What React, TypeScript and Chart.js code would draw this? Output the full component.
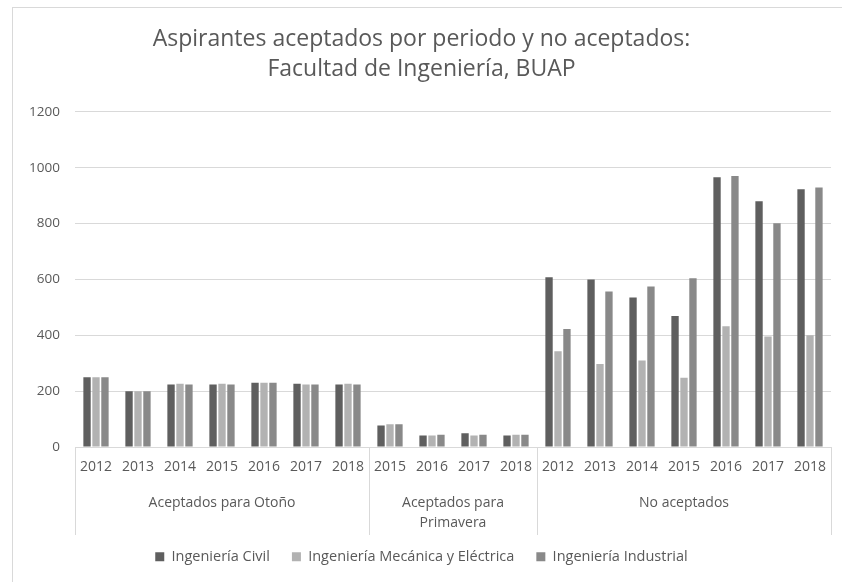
import React, { useEffect, useRef } from "react";
import { Chart, registerables } from "chart.js";

Chart.register(...registerables);

const years = [
  "2012", "2013", "2014", "2015", "2016", "2017", "2018",
  "2015", "2016", "2017", "2018",
  "2012", "2013", "2014", "2015", "2016", "2017", "2018",
];
const groupLabels = [["Aceptados para Otoño"], ["Aceptados para", "Primavera"], ["No aceptados"]];
const groupSizes = [7, 4, 7];

const seriesNames = ["Ingeniería Civil", "Ingeniería Mecánica y Eléctrica", "Ingeniería Industrial"];
const civil = [250, 200, 224, 224, 230, 226, 224, 77, 41, 49, 41, 608, 600, 535, 469, 966, 880, 923];
const mecanica = [250, 200, 226, 226, 230, 224, 226, 81, 41, 41, 44, 343, 297, 310, 248, 432, 396, 400];
const industrial = [250, 200, 224, 224, 230, 224, 224, 81, 44, 44, 44, 422, 557, 575, 604, 970, 801, 929];
const seriesColors = ["#5f5f5f", "#b2b2b2", "#898989"];

const titleLines = ["Aspirantes aceptados por periodo y no aceptados:", "Facultad de Ingeniería, BUAP"];
const yMax = 1200;
const yStep = 200;

const FONT = "'Open Sans', 'DejaVu Sans', sans-serif";
const TEXT = "#595959";
const LINE = "#d9d9d9";

const W = 842;
const H = 582;
const PLOT_BOTTOM = 447;
const BOX_DEPTH = 88;

const categoryBoxPlugin = {
  id: "categoryBox",
  beforeDraw(chart: any) {
    const { ctx } = chart;
    ctx.save();
    ctx.strokeStyle = LINE;
    ctx.lineWidth = 1;
    ctx.strokeRect(12.5, 7.5, W + 20, H + 20);
    ctx.restore();
  },
  afterDatasetsDraw(chart: any) {
    const { ctx, chartArea, scales } = chart;
    const x = scales.x;
    const w = x.getPixelForValue(1) - x.getPixelForValue(0);
    const bottom = chartArea.bottom;
    ctx.save();
    ctx.strokeStyle = LINE;
    ctx.lineWidth = 1;
    ctx.beginPath();
    ctx.moveTo(chartArea.left, Math.round(bottom) + 0.5);
    ctx.lineTo(chartArea.right, Math.round(bottom) + 0.5);
    ctx.stroke();
    let idx = 0;
    const bounds: number[] = [0];
    groupSizes.forEach((s) => {
      idx += s;
      bounds.push(idx);
    });
    bounds.forEach((b) => {
      const px = Math.round(x.getPixelForValue(b) - w / 2) + 0.5;
      ctx.beginPath();
      ctx.moveTo(px, bottom);
      ctx.lineTo(px, bottom + BOX_DEPTH);
      ctx.stroke();
    });
    ctx.fillStyle = TEXT;
    ctx.font = `14px ${FONT}`;
    ctx.textAlign = "center";
    ctx.textBaseline = "middle";
    groupLabels.forEach((lines, g) => {
      const a = x.getPixelForValue(bounds[g]) - w / 2;
      const b = x.getPixelForValue(bounds[g + 1]) - w / 2;
      const cx = (a + b) / 2;
      lines.forEach((line, li) => {
        ctx.fillText(line, cx, bottom + 56 + li * 20);
      });
    });
    ctx.restore();
  },
};

export default function App() {
  const ref = useRef<HTMLCanvasElement | null>(null);
  useEffect(() => {
    if (!ref.current) return;
    const series = [civil, mecanica, industrial];
    const chart = new Chart(ref.current, {
      type: "bar",
      data: {
        labels: years,
        datasets: series.map((d, i) => ({
          label: seriesNames[i],
          data: d,
          backgroundColor: seriesColors[i],
          borderWidth: 0,
          categoryPercentage: 0.64,
          barPercentage: 0.82,
        })),
      },
      options: {
        animation: false,
        responsive: false,
        maintainAspectRatio: false,
        layout: { padding: { left: 12, right: 11, top: 8, bottom: 8 } },
        plugins: {
          title: {
            display: true,
            text: titleLines,
            color: TEXT,
            font: { family: FONT, size: 23, weight: "normal", lineHeight: 1.3 },
            padding: { top: 17, bottom: 27 },
          },
          legend: {
            display: true,
            position: "bottom",
            labels: {
              color: TEXT,
              font: { family: FONT, size: 14.5 },
              boxWidth: 9,
              boxHeight: 9,
              padding: 22,
            },
          },
          tooltip: { enabled: false },
        },
        scales: {
          x: {
            grid: { display: false, drawTicks: false },
            border: { display: false },
            ticks: {
              color: TEXT,
              font: { family: FONT, size: 14 },
              padding: 12,
              maxRotation: 0,
              autoSkip: false,
            },
            afterFit(scale: any) {
              const lh = scale.chart.legend ? scale.chart.legend.height : 0;
              scale.height = H - PLOT_BOTTOM - 8 - lh;
            },
          },
          y: {
            min: 0,
            max: yMax,
            grid: { color: LINE, drawTicks: false },
            border: { display: false },
            ticks: {
              stepSize: yStep,
              color: TEXT,
              font: { family: FONT, size: 13.5 },
              padding: 15,
              callback: (v: any) => String(v),
            },
            afterFit(scale: any) {
              scale.width = 63;
            },
          },
        },
      },
      plugins: [categoryBoxPlugin],
    });
    return () => chart.destroy();
  }, []);
  return (
    <div style={{ position: "fixed", left: 0, top: 0, width: W, height: H, background: "#fff" }}>
      <canvas ref={ref} width={W} height={H} style={{ display: "block" }} />
    </div>
  );
}
